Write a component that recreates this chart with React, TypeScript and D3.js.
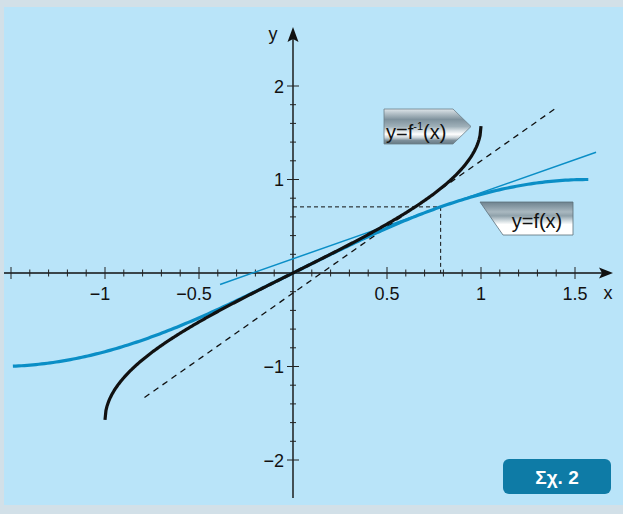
import React from "react";
import * as d3 from "d3";

// Function plot: f(x) = sin x, its inverse arcsin x, and the tangents at x = π/4
const W = 623;
const H = 514;

const xTickLabels = [-1, -0.5, 0.5, 1, 1.5];
const yTickLabels = [-2, -1, 1, 2];
const fDomain = [-1.49, Math.PI / 2];
const fInvDomain = [-1, 1];
const tangentPoint = Math.PI / 4;
const tangentDomain = [-0.388, 1.612];
const invTangentDomain = [-0.79, 1.405];

const x = d3.scaleLinear().domain([0, 1]).range([293, 481]);
const y = d3.scaleLinear().domain([0, 1]).range([273, 179.5]);

const sample = (f: (t: number) => number, [a, b]: number[], n = 200) =>
  d3.range(n + 1).map((i) => {
    const t = a + ((b - a) * i) / n;
    return [t, f(t)] as [number, number];
  });

const line = d3
  .line<[number, number]>()
  .x((d) => x(d[0]))
  .y((d) => y(d[1]))
  .curve(d3.curveLinear);

const fmt = (v: number) => (v < 0 ? "\u2212" + Math.abs(v) : String(v));

const BLUE = "#0a8ec6";

export default function App() {
  const a = tangentPoint;
  const fa = Math.sin(a);
  const slope = Math.cos(a);
  const tangent = (t: number) => fa + slope * (t - a);
  const invTangent = (t: number) => a + (t - fa) / slope;

  const xMinor = d3.range(-15, 16).map((i) => i / 10);
  const yMinor = d3.range(-10, 11).map((i) => i / 5);

  return (
    <svg
      width={W}
      height={H}
      style={{ position: "absolute", left: 0, top: 0, fontFamily: "'Liberation Sans', Arial, sans-serif" }}
    >
      <defs>
        <linearGradient id="gInv" x1="0" y1="0" x2="0" y2="1">
          <stop offset="0" stopColor="#dfe6ea" />
          <stop offset="0.12" stopColor="#b7c3ca" />
          <stop offset="0.3" stopColor="#7f929d" />
          <stop offset="0.5" stopColor="#9fb0b9" />
          <stop offset="0.62" stopColor="#d7e0e4" />
          <stop offset="0.72" stopColor="#ffffff" />
          <stop offset="0.82" stopColor="#c9d3d8" />
          <stop offset="0.9" stopColor="#7d8f9a" />
          <stop offset="1" stopColor="#667984" />
        </linearGradient>
        <linearGradient id="gF" x1="0" y1="0" x2="0" y2="1">
          <stop offset="0" stopColor="#6f838f" />
          <stop offset="0.15" stopColor="#8a9ca6" />
          <stop offset="0.3" stopColor="#a9b8c0" />
          <stop offset="0.42" stopColor="#8fa1aa" />
          <stop offset="0.55" stopColor="#c8d3d8" />
          <stop offset="0.68" stopColor="#ffffff" />
          <stop offset="1" stopColor="#ffffff" />
        </linearGradient>
      </defs>

      {/* frame */}
      <rect x={0} y={0} width={W} height={H} fill="#d2e0e8" />
      <rect x={4} y={7} width={W - 4} height={498} fill="#b9e4f9" />

      {/* guide lines to the tangent point */}
      <g stroke="#111" strokeWidth={1} strokeDasharray="4,3" fill="none">
        <line x1={x(0)} x2={x(a)} y1={y(fa)} y2={y(fa)} />
        <line x1={x(a)} x2={x(a)} y1={y(fa)} y2={y(0)} />
      </g>

      {/* axes */}
      <g stroke="#111">
        <line x1={4} x2={606} y1={y(0)} y2={y(0)} strokeWidth={1.4} />
        <line x1={x(0)} x2={x(0)} y1={498} y2={36} strokeWidth={1.4} />
      </g>
      <path d={`M613,${y(0)} L599,${y(0) - 5.5} L602,${y(0)} L599,${y(0) + 5.5} Z`} fill="#111" />
      <path d={`M${x(0)},27 L${x(0) - 5.5},42 L${x(0)},39 L${x(0) + 5.5},42 Z`} fill="#111" />

      {/* ticks */}
      <g stroke="#222" strokeWidth={1}>
        {xMinor.map((t) => {
          if (Math.abs(t) < 1e-9) return null;
          const major = Math.abs(Math.round(t * 2) - t * 2) < 1e-9;
          const h = major ? 6 : 3.5;
          return <line key={"x" + t} x1={x(t)} x2={x(t)} y1={y(0) - h} y2={y(0) + h} />;
        })}
        {yMinor.map((t) => {
          if (Math.abs(t) < 1e-9) return null;
          const major = Math.abs(Math.round(t) - t) < 1e-9;
          const h = major ? 6 : 3;
          return <line key={"y" + t} x1={x(0) - h} x2={x(0) + h} y1={y(t)} y2={y(t)} />;
        })}
      </g>

      {/* tick labels */}
      <g fontSize={18} fill="#111">
        {xTickLabels.map((t) => (
          <text key={"xl" + t} x={x(t) + (t < 0 ? -5 : 0)} y={300} textAnchor="middle">
            {fmt(t)}
          </text>
        ))}
        {yTickLabels.map((t) => (
          <text key={"yl" + t} x={284} y={y(t) + 6.5} textAnchor="end">
            {fmt(t)}
          </text>
        ))}
        <text x={608} y={299} textAnchor="middle">x</text>
        <text x={273} y={40} textAnchor="middle">y</text>
      </g>

      {/* tangent to f at π/4 */}
      <path d={line(sample(tangent, tangentDomain, 2)) || ""} stroke={BLUE} strokeWidth={1.5} fill="none" />
      {/* tangent to the inverse at sin(π/4) */}
      <path
        d={line(sample(invTangent, invTangentDomain, 2)) || ""}
        stroke="#111"
        strokeWidth={1.3}
        strokeDasharray="6,5"
        fill="none"
      />

      {/* f(x) = sin x */}
      <path d={line(sample(Math.sin, fDomain)) || ""} stroke={BLUE} strokeWidth={3.2} fill="none" />
      {/* f^-1(x) = arcsin x */}
      <path d={line(sample(Math.asin, fInvDomain, 400)) || ""} stroke="#111" strokeWidth={3.2} fill="none" />

      {/* curve labels */}
      <path d="M384,109 L453,109 L471,126.5 L453,144 L384,144 Z" fill="url(#gInv)" stroke="#6b7d88" strokeWidth={0.8} />
      <text x={386} y={139} fontSize={20} fill="#111">
        y=f
        <tspan fontSize={11} dy={-9}>-1</tspan>
        <tspan dy={9}>(x)</tspan>
      </text>

      <path d="M480,202 L573,202 L573,235 L503,235 Z" fill="url(#gF)" stroke="#5c6f7a" strokeWidth={0.8} />
      <text x={537} y={228} fontSize={20} fill="#111" textAnchor="middle">
        y=f(x)
      </text>

      {/* figure badge */}
      <rect x={503} y={459} width={108} height={35} rx={6} fill="#0e7ba6" />
      <text x={557} y={484} fontSize={19} fontWeight="bold" fill="#fff" textAnchor="middle">
        Σχ. 2
      </text>
    </svg>
  );
}
